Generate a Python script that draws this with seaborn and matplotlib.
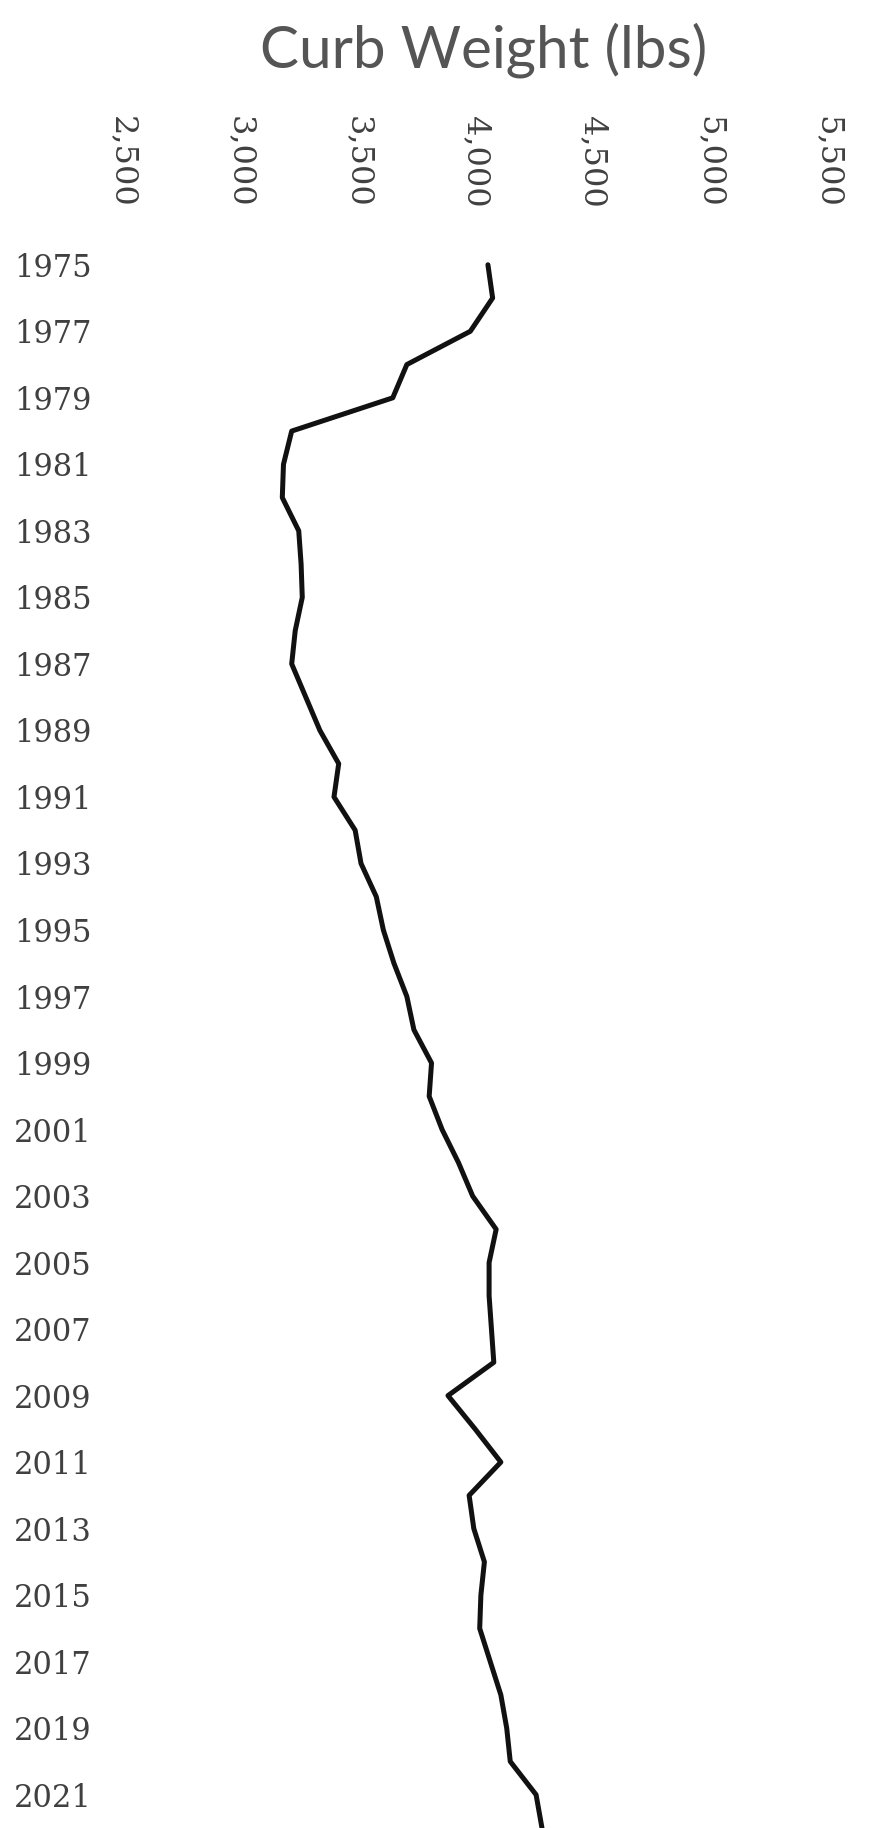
import seaborn as sns
import matplotlib.pyplot as plt
import pandas as pd

# ---------------------------
# Data
# ---------------------------
years = list(range(1975, 2023))
curb_weight = [
    4055, 4075, 3980, 3710, 3650, 3220, 3185, 3180, 3250, 3260,
    3265, 3235, 3220, 3280, 3340, 3420, 3400, 3490, 3515, 3580,
    3610, 3655, 3710, 3740, 3815, 3805, 3860, 3930, 3990, 4090,
    4060, 4060, 4070, 4080, 3885, 4000, 4110, 3975, 3995, 4040,
    4025, 4020, 4065, 4110, 4135, 4150, 4260, 4285,
]
x_ticks = [2500, 3000, 3500, 4000, 4500, 5000, 5500]
year_ticks = list(range(1975, 2022, 2))
title = "Curb Weight (lbs)"

df = pd.DataFrame({"Year": years, "Weight": curb_weight})

# ---------------------------
# Styling
# ---------------------------
sns.set_style("white")
plt.rcParams["font.family"] = ["DejaVu Serif"]

W, H = 881, 1828
fig = plt.figure(figsize=(W / 100, H / 100), dpi=100)
fig.patch.set_facecolor("white")

ax_top = 215
ax = fig.add_axes([100 / W, 0, 770 / W, (H - ax_top) / H])

sns.lineplot(data=df, x="Weight", y="Year", orient="y", sort=True,
             color="#111111", linewidth=3.6, ax=ax)

# axis limits (px -> data)
ax.set_xlim(4000 + (100 - 475) / 0.235, 4000 + (870 - 475) / 0.235)
ax.set_ylim(2022.0, 2022.0 - (H - ax_top) / 33.26)

ax.set_xticks(x_ticks)
ax.set_xticklabels([f"{v:,}" for v in x_ticks], rotation=-90)
ax.set_yticks(year_ticks)
ax.set_yticklabels([str(y) for y in year_ticks])

ax.xaxis.tick_top()
ax.tick_params(axis="x", length=0, pad=5, labelsize=23, labelcolor="#404040",
               top=True, bottom=False, labeltop=True, labelbottom=False)
ax.tick_params(axis="y", length=0, pad=6, labelsize=22, labelcolor="#404040")
for lbl in ax.get_xticklabels():
    lbl.set_va("bottom")

ax.set_xlabel("")
ax.set_ylabel("")
for s in ax.spines.values():
    s.set_visible(False)

fig.text(484 / W, 1 - 68 / H, title, ha="center", va="baseline",
         fontsize=42, color="#555555", family=["Lato", "DejaVu Sans"])

plt.savefig("out.png", dpi=100)
